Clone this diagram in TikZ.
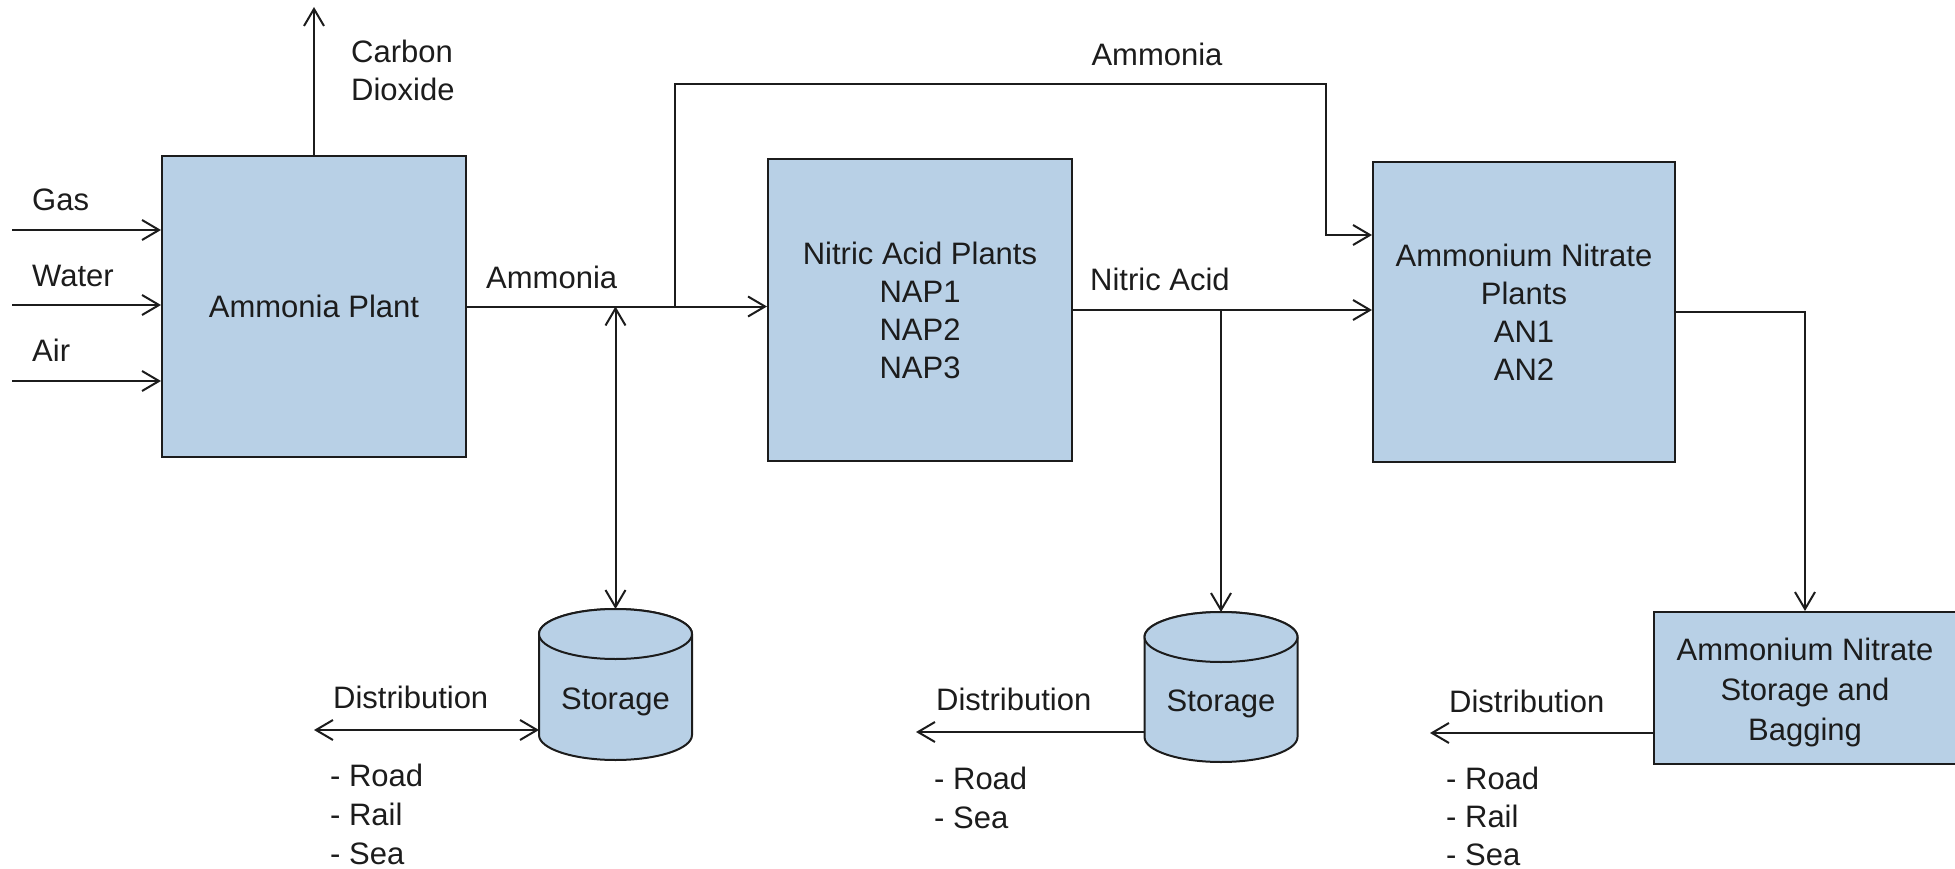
\documentclass[tikz,border=0pt]{standalone}
\usepackage{fontspec}
\setmainfont{Liberation Sans}
\usetikzlibrary{arrows.meta}
\definecolor{impianto}{RGB}{184,208,230}
\definecolor{tratto}{RGB}{28,28,28}
\tikzset{
  plant/.style={draw=tratto, line width=2pt, fill=impianto, text=tratto, align=center, inner sep=0pt},
  tank/.style={draw=tratto, line width=2pt, fill=impianto},
  flow/.style={draw=tratto, line width=2pt, -{Straight Barb[length=17pt,width=20pt]}},
  flowboth/.style={draw=tratto, line width=2pt, {Straight Barb[length=17pt,width=20pt]}-{Straight Barb[length=17pt,width=20pt]}},
  lbl/.style={text=tratto, inner sep=0pt, anchor=west, text height=0.72em, text depth=0pt},
  lista/.style={text=tratto, inner sep=0pt, anchor=north west, align=left, font=\fontsize{31}{39}\selectfont},
}
% serbatoio: nome, x centro, y ellisse sopra, y ellisse sotto
\newcommand{\serbatoio}[4]{%
  \filldraw[tank] (#2-76.5,#3) -- (#2-76.5,#4) arc[start angle=180, end angle=360, x radius=76.5pt, y radius=25pt]
    -- (#2+76.5,#3) arc[start angle=0, end angle=180, x radius=76.5pt, y radius=25pt] -- cycle;
  \draw[tank] (#2,#3) ellipse[x radius=76.5pt, y radius=25pt];
  \coordinate (#1 top) at (#2,#3-25);
  \coordinate (#1 left) at (#2-76.5,#4);
}
\begin{document}
\begin{tikzpicture}[x=1pt, y=-1pt, font=\fontsize{31}{38}\selectfont]
\useasboundingbox (0,0) rectangle (1955,869);
% impianti
\node[plant, minimum width=304pt, minimum height=301pt] (amp) at (314,306.5) {Ammonia Plant};
\node[plant, minimum width=304pt, minimum height=302pt] (nap) at (920,310) {Nitric Acid Plants\\NAP1\\NAP2\\NAP3};
\node[plant, minimum width=302pt, minimum height=300pt] (anp) at (1524,312) {Ammonium Nitrate\\Plants\\AN1\\AN2};
\node[plant, minimum width=302pt, minimum height=152pt, font=\fontsize{31}{40}\selectfont, text height=112pt, text depth=7pt] (ans) at (1805,688) {Ammonium Nitrate\\Storage and\\Bagging};
\serbatoio{st1}{615.5}{634}{735} % serbatoio ammoniaca
\serbatoio{st2}{1221}{637}{737} % serbatoio acido nitrico
\node[text=tratto, inner sep=0pt] (st1txt) at (615.5,702) {Storage};
\node[text=tratto, inner sep=0pt] (st2txt) at (1221,704) {Storage};
% ingressi e uscite dell'impianto ammoniaca
\coordinate (gasin) at (12,230);
\coordinate (h2oin) at (12,305);
\coordinate (airin) at (12,381);
\coordinate (co2out) at (314,7);
\draw[flow] (gasin) -- (gasin -| amp.west);
\draw[flow] (h2oin) -- (h2oin -| amp.west);
\draw[flow] (airin) -- (airin -| amp.west);
\draw[flow] (amp.north) -- (co2out);
\node[lbl] (gas) at (32,207) {Gas};
\node[lbl] (water) at (32,283) {Water};
\node[lbl] (air) at (32,358) {Air};
\node[text=tratto, inner sep=0pt, anchor=west, align=left] (co2) at (351,70) {Carbon\\Dioxide};
% ammoniaca
\coordinate (j1) at (675,306.5);
\coordinate (nh3top) at (1326,84);
\draw[flow] (amp.east) -- (amp.east -| nap.west);
\draw[flow] (j1) |- (nh3top) |- ([yshift=77pt]anp.west);
\draw[flowboth] (st1 top |- amp.east) -- (st1 top);
\node[lbl] (nh3) at (486,285) {Ammonia};
\node[text=tratto, inner sep=0pt] (nh3b) at (1157,54) {Ammonia};
% acido nitrico
\draw[flow] (nap.east) -- (nap.east -| anp.west);
\draw[flow] (st2 top |- nap.east) -- (st2 top);
\node[lbl] (hno3) at (1090,287) {Nitric Acid};
% nitrato
\draw[flow] (anp.east) -| (ans.north);
% distribuzione
\coordinate (d1) at (314,730);
\coordinate (d2) at (916,732);
\coordinate (d3) at (1430,733);
\draw[flowboth] (d1) -- (d1 -| st1 left);
\draw[flow] (d2 -| st2 left) -- (d2);
\draw[flow] (d3 -| ans.west) -- (d3);
\node[lbl] (dist1) at (333,705) {Distribution};
\node[lbl] (dist2) at (936,707) {Distribution};
\node[lbl] (dist3) at (1449,709) {Distribution};
\node[lista] (via1) at (330,764) {- Road\\- Rail\\- Sea};
\node[lista] (via2) at (934,767) {- Road\\- Sea};
\node[lista, font=\fontsize{31}{38}\selectfont] (via3) at (1446,767) {- Road\\- Rail\\- Sea};
\end{tikzpicture}
\end{document}
